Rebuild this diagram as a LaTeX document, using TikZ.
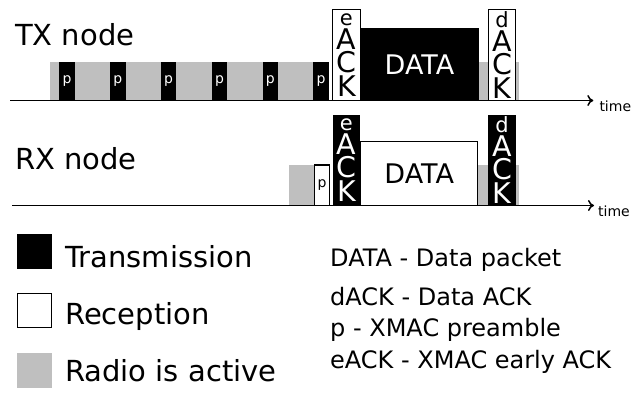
\documentclass[tikz,border=0pt]{standalone}
\usepackage{fontspec}
\setmainfont{DejaVu Sans}
\usetikzlibrary{arrows.meta}

\begin{document}
\begin{tikzpicture}[x=1pt, y=1pt,
        slot/.style={anchor=south west, inner sep=0pt, outer sep=0pt},
        txpkt/.style={slot, fill=black, text=white},
        rxpkt/.style={slot, draw=black, line width=1.2pt, fill=white, text=black},
        radioon/.style={slot, fill=gray!50},
        ackbox/.style={minimum width=27.5, minimum height=91, align=center, font=\fontsize{28.5}{23.5}\selectfont},
        pbox/.style={minimum width=15.5, minimum height=38.5, font=\fontsize{14}{14}\selectfont},
        datafont/.style={font=\fontsize{27}{27}\selectfont},
        timeaxis/.style={line width=1.5pt, -{To[length=6pt, width=11pt]}},
        nametext/.style={anchor=base west, inner sep=0pt, font=\fontsize{29}{29}\selectfont},
        keytext/.style={anchor=base west, inner sep=0pt, font=\fontsize{24}{24}\selectfont},
        timetext/.style={anchor=base west, inner sep=0pt, font=\fontsize{14}{14}\selectfont}]
    \useasboundingbox (0,0) rectangle (633,392);

    % TX node
    \node[nametext] (txname) at (15,346.3) {TX node};
    \node[radioon, minimum width=279.3, minimum height=38.5] (txon) at (50,291.5) {};
    \foreach \i in {0,...,5}
        \node[txpkt, pbox] (txp\i) at ({59.3+50.8*\i},291.5) {p};
    \node[rxpkt, ackbox] (txeack) at (332.7,291.5) {{\fontsize{21}{21}\selectfont e}\\A\\C\\K};
    \node[txpkt, datafont, minimum width=119, minimum height=72.2] (txdata) at (360,291.5) {DATA};
    \node[radioon, minimum width=40, minimum height=38.5] (txonend) at (479,291.5) {};
    \node[rxpkt, ackbox] (txdack) at (488.3,291.5) {{\fontsize{21}{21}\selectfont d}\\A\\C\\K};
    \coordinate (txstart) at (10,291.5);
    \coordinate (txend) at (593.3,291.5);
    \draw[timeaxis] (txstart) -- (txend);
    \node[timetext] (txtime) at (599.3,280.3) {time};

    % RX node
    \node[nametext] (rxname) at (15,223) {RX node};
    \node[radioon, minimum width=25, minimum height=40.5] (rxon) at (289.3,186.5) {};
    \node[rxpkt, pbox, minimum height=40.5] (rxp) at (314.3,186.5) {p};
    \node[txpkt, ackbox] (rxeack) at (332.7,186.5) {{\fontsize{21}{21}\selectfont e}\\A\\C\\K};
    \node[rxpkt, datafont, minimum width=117, minimum height=63.8] (rxdata) at (360.7,186.5) {DATA};
    \node[radioon, minimum width=41.3, minimum height=40.5] (rxonend) at (477.7,186.5) {};
    \node[txpkt, ackbox] (rxdack) at (488.3,186.5) {{\fontsize{21}{21}\selectfont d}\\A\\C\\K};
    \coordinate (rxstart) at (12,186.5);
    \coordinate (rxend) at (594,186.5);
    \draw[timeaxis] (rxstart) -- (rxend);
    \node[timetext] (rxtime) at (598,175.3) {time};

    % legend
    \node[txpkt, minimum size=35] (keytx) at (16.7,123) {};
    \node[nametext] (keytxtext) at (65,124.3) {Transmission};
    \node[rxpkt, minimum size=34] (keyrx) at (17.2,64.2) {};
    \node[nametext] (keyrxtext) at (65,68) {Reception};
    \node[radioon, minimum size=35] (keyon) at (16.7,3.7) {};
    \node[nametext] (keyontext) at (65,10.3) {Radio is active};

    \node[keytext] (keydata) at (330,126) {DATA - Data packet};
    \node[keytext] (keydack) at (330,87) {dACK - Data ACK};
    \node[keytext] (keyp) at (330,55.3) {p - XMAC preamble};
    \node[keytext] (keyeack) at (330,23.7) {eACK - XMAC early ACK};
\end{tikzpicture}
\end{document}
